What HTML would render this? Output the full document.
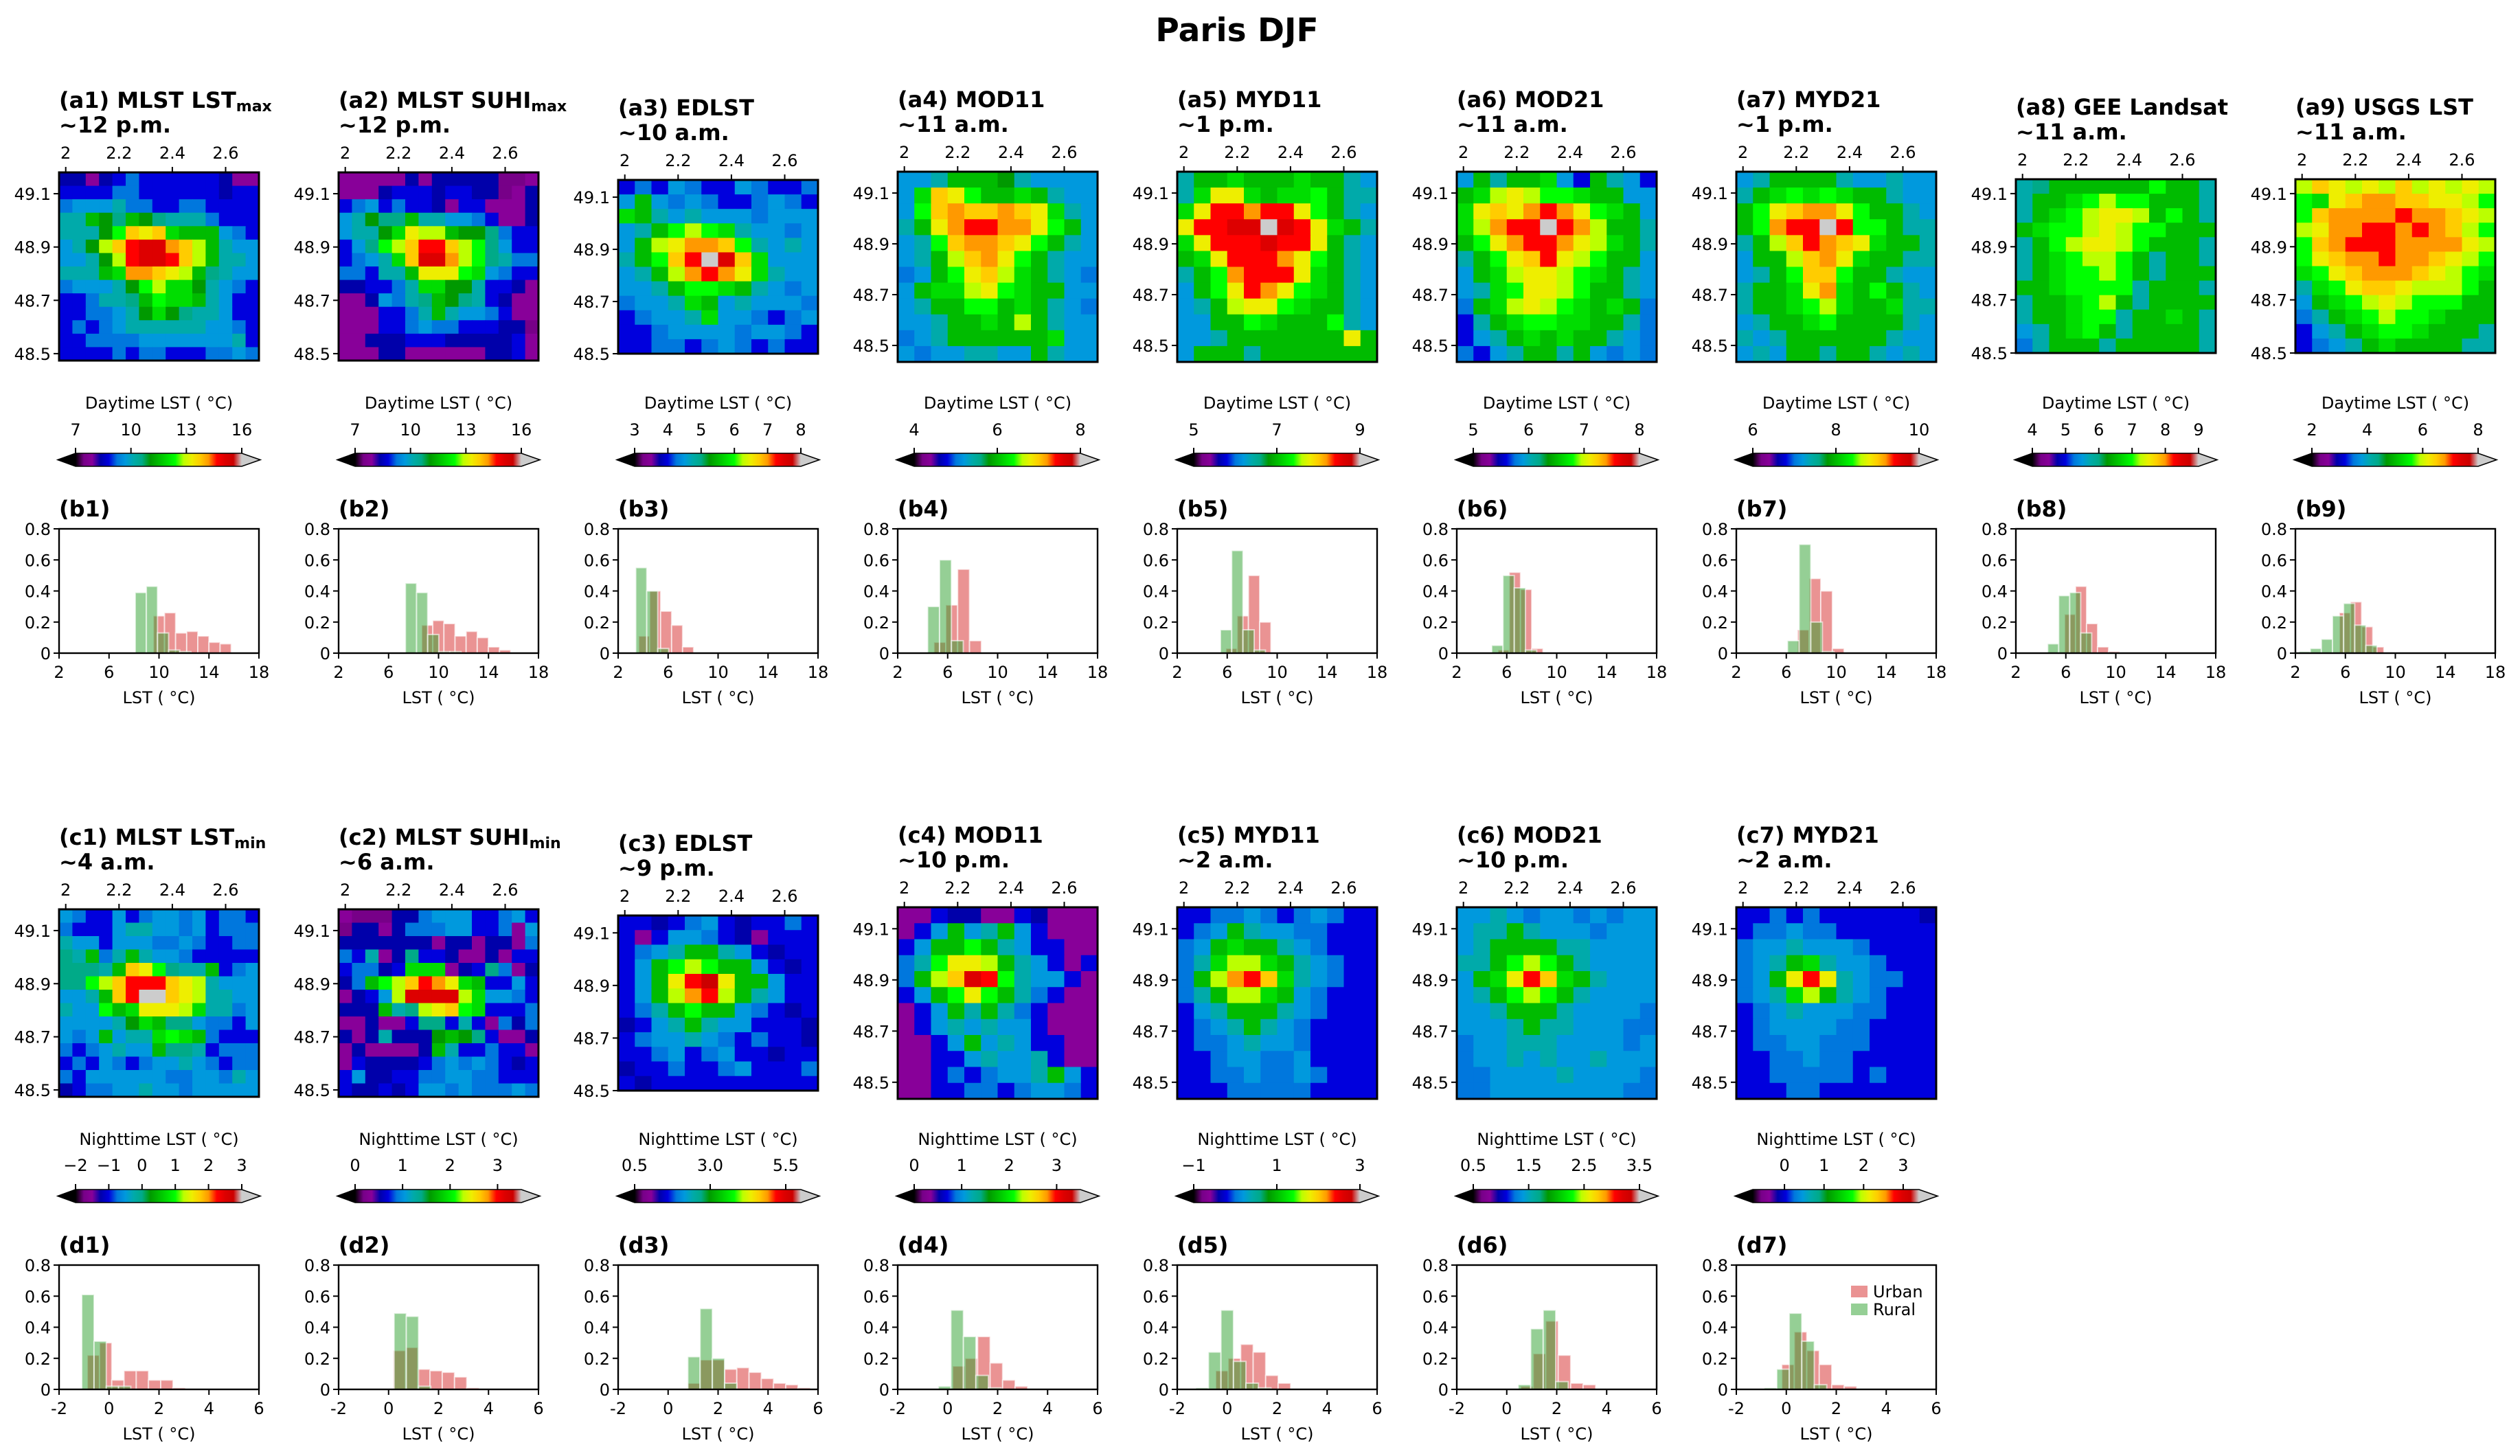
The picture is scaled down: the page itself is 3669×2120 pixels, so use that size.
<!DOCTYPE html>
<html><head><meta charset="utf-8">
<style>
html,body{margin:0;padding:0;background:#fff;}
svg{display:block;font-family:"DejaVu Sans","Liberation Sans",sans-serif;}
</style></head>
<body>
<svg id="fig" xmlns="http://www.w3.org/2000/svg" width="3669" height="2120" viewBox="0 0 3669 2120">
<rect x="0" y="0" width="3669" height="2120" fill="#fff"/>
<text x="1801" y="60" font-size="47" font-weight="bold" text-anchor="middle">Paris DJF</text>
</svg>
<script>
// ---------- map data (colour-level letters a..u => 0..20 of colour range) ----------
const gridA1 = ["ddcdefeeeeeedcc","eeeeffeeeeeedee","fggghffeeffeeee","hhkjikjihhhfeee","hhhjmpoplkkkgfe","ghjnprssqpnkhgg","gghjnrssrpnkhhg","hhhklqqponkihgg","fggghjmnlljhgfe","eefhhikmllkhgee","eeffghjljihhgee","efefghhhhhhggfe","eeffffggggggghe","eeeefeffeeeffgf"];
const gridA2 = ["cccccdcdddddbbc","cccdeeedeeddbcd","efgefeedceecccd","ghjiikhhggfeccd","ghhjlonnkjjifee","egimnprrpnmigee","efghlpssqnmihff","ffehhkooomlgfee","ddeefhlljjheedc","ccdgfhikjihedcc","ccceefhkhggfecc","ccceefgffeeeddb","ccdddeeedddddec","cccddccccccddec"];
const gridA3 = ["efegfeegfeef","gkgfgfeefgfe","lkhghgggfggg","ghkmnmlhggfg","gknoqqpmhghg","hkmprusplggg","ghknqrqolhgg","gghkmmlkhgfg","fgghlkghgggf","efgghlggfefg","eefggggfggfe","eeffefgfefee"];
const gridA4 = ["gghkkkjhgggg","glpomkklkhgg","gmpqppqpolhg","hkoqrrqqomkg","ghmpqqpomkhg","ghknpqomkhgg","fgkmopnlkhgf","gkllnomlkkgg","ghkkmmklkhgf","gghkklknkhgg","fghkkkkkklgg","gfgghhggkhgg"];
const gridA5 = ["hkklkkklkkhg","hloolkllmkhh","lorrqrromkhg","orrssusrolkh","lorrrsrrokhg","klorrrqomkhg","hkmqrrrolkhg","gkmorqomlkhg","ghknoomlkkhg","ggkkmlkkkmhg","gghkkkkkkkok","gkkkhkkkkkkk"];
const gridA6 = ["gkhkklgekhge","klnonmmlkkgg","lopoqrqomlkg","lnqrrurqnkkh","kmoqrrqonlkh","hkmopronmkkg","gklnoonmlkhg","ghlmoonmkkhg","fklnonmlklkf","ehklmmllkkhf","eghklklkkhgf","feghkkhkgfgf"];
const gridA7 = ["ghkkkkhgghgg","hklmlmlkkhgg","kmopqqomkkhg","kmqrrurmmkhh","hknprqpolkkh","gkknpqolkkhh","ghkmppmkkhgg","hkkloqlkmkhg","hkklmnlkklhh","ghkklmkkkkhg","hghkkkkkkhgg","ghgkkhkkhghg"];
const gridA8 = ["hikkkkkkmkkh","hkklmnmmkkkh","hklmnoonkmkh","klmmnonmmkkk","hkmnoonmkkkh","hklmnnmkhkkh","hklmmnmkhkkk","kklmmmmhkkkh","hkklmnkhkkkk","hkklmmhkklkh","ghklmkhkkkkh","fhkkkhkkkkkh"];
const gridA9 = ["npononpnonon","mlopqqppoonm","mpqqqqrqqpon","noqqrrqrqpnm","mpqrrrqqqqon","mopqqrqqponm","lmopqqqponml","hlmopponnnmk","gklmnonmmmkk","fhklmnmmlkkk","eghklmmlkkkh","efghklkkkkhh"];
const gridC1 = ["gfeegefggfgeffe","feeeghhggfgefff","hggegggffgfeeff","ihkfhkhggfeeeee","iiihkpomihhkefg","iimnprrrponhggg","gghkpruuponhhgg","hggmklooonlhhfg","gggghjlkiigffeg","gfgkghhlmlkfeee","fefghggkiihefff","efegfefgghgfeff","feggggggffggfhg","deffgghggfggggg"];
const gridC2 = ["cbbbddfgggeefge","bddcdfffggeefcg","dddddddcddcddcf","fehcdieedccdcee","effdelllcdeifcd","dfkmnprqolkeege","cdegnssssnlggfe","dddkhinopmleeef","ccdcceiiehecfdf","dcdhdddjkjieccd","cdccccdkheefeec","ceddddefgfgfede","egddeeffggffeee","eddedeggfgfffgf"];
const gridC3 = ["eedefgedeefe","eceggfedceee","efghkkhgedee","egkmnmkkgede","egkortokkgee","egknqrnkhgee","efhkmkkgfede","deghkhggeeed","efgghgfefeed","eefgefgeedee","deefeefgeeef","edeeeeeeeeee"];
const gridC4 = ["cceddccedccc","cegkghkgeccc","egkkmkhgeecc","fhmoonkhgece","fknpsrmhggec","egkmomkhfecc","cegkhkhfeccc","ceghghggeccc","ccegkghgeecc","cceeghgghecc","ccefefgghkge","cceeffefggfe"];
const gridC5 = ["eeffgfefgfee","efgkhggffeee","fgklkkhgfeee","fhlnnlkhgfee","fknqrplhgfee","fhknnlkgfeee","eghkkkhgfeee","efghkhgfeeee","effghggfeeee","eefggffgeeee","eeffgffgfeee","eeefffffeeee"];
const gridC6 = ["gghgfggfgfgg","ghhkhgggfggg","ghkkkkhhgggg","hhkmnmkhgggg","gklorplkhggg","ghkmnmkhgggg","gghkkkhggggf","ggghkhhgggff","fgghhhggggfg","fgghghgghggg","ffgggghggggf","ffggggggggff"];
const gridC7 = ["eefefeeeeeed","effgffeeeeee","fgghgggfeeee","fghklhggfeee","fgkorohgffee","fghlnkhgfeee","efghgggffeee","efggggffeeee","effggfffeeee","eeffgffeeeee","eefffffefeee","eeeffeeeeeee"];

// colour-bar ranges and tick labels
const cbRangeA = [[7,16],[7,16],[3,8],[4,8],[5,9],[5,8],[6,10],[4,9],[2,8]];
const cbTicksA = [[7,10,13,16],[7,10,13,16],[3,4,5,6,7,8],[4,6,8],[5,7,9],[5,6,7,8],[6,8,10],[4,5,6,7,8,9],[2,4,6,8]];
const cbRangeC = [[-2,3],[0,3.5],[0.5,6.0],[0,3.5],[-1,3],[0.5,3.5],[-0.8,3.4]];
const cbTicksC = [[-2,-1,0,1,2,3],[0,1,2,3],[0.5,3.0,5.5],[0,1,2,3],[-1,1,3],[0.5,1.5,2.5,3.5],[0,1,2,3]];
const cbTickLabelsC = [["−2","−1","0","1","2","3"],["0","1","2","3"],["0.5","3.0","5.5"],["0","1","2","3"],["−1","1","3"],["0.5","1.5","2.5","3.5"],["0","1","2","3"]];

// ---------- histogram data (fraction per bin) ----------
const urbanStartB = [9.55,8.65,3.64,4.9,5.9,5.3,6.9,5.9,5.52];
const urbanB = [[0.24,0.26,0.13,0.14,0.11,0.07,0.06],[0.18,0.21,0.19,0.11,0.14,0.10,0.04,0.02],[0.11,0.40,0.27,0.18,0.04],[0.07,0.31,0.54,0.08],[0.03,0.24,0.50,0.20],[0.02,0.52,0.41,0.03],[0.15,0.48,0.40,0.03],[0.25,0.43,0.19,0.04,0.01],[0.26,0.33,0.17,0.04]];
const ruralStartB = [8.1,7.35,3.41,4.4,5.46,4.8,6.1,4.55,2.3];
const ruralB = [[0.39,0.43,0.13,0.02,0.01],[0.45,0.39,0.12,0.01,0.01],[0.55,0.40,0.03],[0.30,0.60,0.08],[0.15,0.66,0.15,0.02],[0.05,0.50,0.42,0.02],[0.08,0.70,0.20,0.01],[0.06,0.37,0.39,0.13],[0.01,0.03,0.09,0.24,0.32,0.18,0.05]];
const binWidthB = [0.89,0.89,0.88,0.95,0.9,0.9,0.93,0.88,0.89];
const urbanStartD = [-0.87,0.19,0.79,0.2,-0.46,0.56,-0.18];
const urbanD = [[0.22,0.30,0.06,0.12,0.12,0.06,0.06,0.01],[0.25,0.27,0.13,0.12,0.11,0.08,0.01],[0.04,0.19,0.19,0.13,0.14,0.11,0.07,0.04,0.03,0.01],[0.15,0.20,0.34,0.17,0.06,0.02],[0.12,0.20,0.29,0.24,0.09,0.04],[0.02,0.23,0.44,0.22,0.04,0.03],[0.16,0.37,0.25,0.16,0.03,0.02]];
const ruralStartD = [-1.09,0.22,0.79,-0.37,-1.25,0.46,-0.88];
const ruralD = [[0.61,0.31,0.02,0.02],[0.49,0.47,0.02],[0.21,0.52,0.20,0.04],[0.02,0.51,0.34,0.09,0.01],[0.01,0.24,0.51,0.18,0.04,0.01],[0.03,0.39,0.51,0.05],[0.01,0.13,0.49,0.31,0.03]];
const binWidthD = [0.49,0.49,0.49,0.5,0.5,0.5,0.5];
const histTicksB = [2,6,10,14,18];
const histTicksD = [-2,0,2,4,6];
const histYTicks = [0,0.2,0.4,0.6,0.8];
const histYTickLabels = ["0","0.2","0.4","0.6","0.8"];
const lonTicks = [2,2.2,2.4,2.6];
const lonTickLabels = ["2","2.2","2.4","2.6"];
const latTicks = [48.5,48.7,48.9,49.1];

// ---------- panel text ----------
const titlesA = [["(a1) MLST LST","max","~12 p.m."],["(a2) MLST SUHI","max","~12 p.m."],["(a3) EDLST","","~10 a.m."],["(a4) MOD11","","~11 a.m."],["(a5) MYD11","","~1 p.m."],["(a6) MOD21","","~11 a.m."],["(a7) MYD21","","~1 p.m."],["(a8) GEE Landsat","","~11 a.m."],["(a9) USGS LST","","~11 a.m."]];
const titlesC = [["(c1) MLST LST","min","~4 a.m."],["(c2) MLST SUHI","min","~6 a.m."],["(c3) EDLST","","~9 p.m."],["(c4) MOD11","","~10 p.m."],["(c5) MYD11","","~2 a.m."],["(c6) MOD21","","~10 p.m."],["(c7) MYD21","","~2 a.m."]];

// ---------- layout (not data) ----------
const W = 291;
const colX = i => 86 + i*407;
const mapBoxA = [[251,525,49.18,48.474],[251,525,49.18,48.474],[262,515,49.166,48.5],[250,527,49.184,48.435],[250,527,49.184,48.435],[250,527,49.184,48.435],[250,527,49.184,48.435],[261,514,49.154,48.5],[261,514,49.154,48.5]];
const mapBoxC = [[1324,1597,49.18,48.474],[1324,1597,49.18,48.474],[1333,1588,49.166,48.5],[1321,1600,49.184,48.435],[1321,1600,49.184,48.435],[1321,1600,49.184,48.435],[1321,1600,49.184,48.435]];
const LON0 = 1.975, LON1 = 2.725;

const CM = [[0,0,0],[0.4667,0,0.5333],[0.5333,0,0.6],[0,0,0.6667],[0,0,0.8667],[0,0.4667,0.8667],[0,0.6,0.8667],[0,0.6667,0.6667],[0,0.6667,0.5333],[0,0.6,0],[0,0.7333,0],[0,0.8667,0],[0,1,0],[0.7333,1,0],[0.9333,0.9333,0],[1,0.8,0],[1,0.6,0],[1,0,0],[0.8667,0,0],[0.8,0,0],[0.8,0.8,0.8]];
function cmap(t){t=Math.max(0,Math.min(1,t));const f=t*20;const i=Math.min(19,Math.floor(f));const u=f-i;const a=CM[i],b=CM[i+1];
 return 'rgb('+[0,1,2].map(k=>Math.round(255*(a[k]+(b[k]-a[k])*u))).join(',')+')';}

const NS="http://www.w3.org/2000/svg";
const svg=document.getElementById('fig');
function el(tag,parent){const e=document.createElementNS(NS,tag);(parent||svg).appendChild(e);return e;}
function setA(e,o){for(const k in o)e.setAttribute(k,o[k]);return e;}

const defs=el('defs');
const grad=el('linearGradient',defs);
setA(grad,{id:'nipy',x1:'0',x2:'1',y1:'0',y2:'0'});
CM.forEach((c,i)=>{const s=el('stop',grad);setA(s,{offset:(i/20),'stop-color':'rgb('+c.map(v=>Math.round(v*255)).join(',')+')'});});

function txt(parent,x,y,s,size,anchor,bold){const t=el('text',parent);setA(t,{x:x,y:y,'font-size':size,'text-anchor':anchor||'start'});if(bold)t.setAttribute('font-weight','bold');t.textContent=s;return t;}

function drawMap(grid,range,box,i,title,rowName){
 const x0=colX(i),yT=box[0],yB=box[1],latT=box[2],latB=box[3],h=yB-yT;
 const g=el('g');
 
 
 const rows=grid.length;
 const cols=grid[0].replace(/ /g,'').length;
 grid.forEach((row,r)=>{
  let cells=row.replace(/ /g,'');
  while(cells.length<cols)cells+=cells[cells.length-1];
  for(let c=0;c<cols;c++){
   const lvl=cells.charCodeAt(c)-97;
   const value=range[0]+lvl/20*(range[1]-range[0]);
   const rc=el('rect',g);
   
   
   const cx0=x0+c*W/cols, cy0=yT+r*h/rows;
   setA(rc,{x:cx0.toFixed(2),y:cy0.toFixed(2),width:(W/cols+0.6).toFixed(2),height:(h/rows+0.6).toFixed(2),fill:cmap((value-range[0])/(range[1]-range[0]))});
  }
 });
 const fr=el('rect',g);setA(fr,{x:x0,y:yT,width:W,height:h,fill:'none',stroke:'#000','stroke-width':3});
 const lonX=lon=>x0+(lon-LON0)/(LON1-LON0)*W;
 const latY=lat=>yT+(latT-lat)/(latT-latB)*h;
 lonTicks.forEach((lon,k)=>{const x=lonX(lon);const l=el('line',g);setA(l,{x1:x,x2:x,y1:yT,y2:yT-8,stroke:'#000','stroke-width':2});
  txt(g,x,yT-20,lonTickLabels[k],24,'middle');});
 latTicks.forEach(lat=>{const y=latY(lat);const l=el('line',g);setA(l,{x1:x0,x2:x0-8,y1:y,y2:y,stroke:'#000','stroke-width':2});
  txt(g,x0-12,y+9,lat.toFixed(1),24,'end');});
 const t1=el('text');
 
 
 setA(t1,{x:x0,y:yT-94,'font-size':32,'font-weight':'bold'});
 const s1=el('tspan',t1);s1.textContent=title[0];
 if(title[1]){const s2=el('tspan',t1);setA(s2,{'font-size':22,dy:5});s2.textContent=title[1];}
 const t2=txt(svg,x0,yT-58,title[2],32,'start',true);
 
 
}

function drawColorbar(range,ticks,labels,i,yTop,labelY,tickY,labelText,rowName){
 const x0=colX(i),x1=x0+24,x2=x0+W-25,yb=yTop+19,ym=(yTop+yb)/2;
 const g=el('g');
 
 
 const lt=el('polygon',g);setA(lt,{points:`${x0-2},${ym} ${x1},${yTop} ${x1},${yb}`,fill:'#000'});
 const rt=el('polygon',g);setA(rt,{points:`${x2},${yTop} ${x0+W+2},${ym} ${x2},${yb}`,fill:'#ccc'});
 const bar=el('rect',g);setA(bar,{x:x1,y:yTop,width:x2-x1,height:19,fill:'url(#nipy)'});
 const ol=el('polygon',g);setA(ol,{points:`${x0-2},${ym} ${x1},${yTop} ${x2},${yTop} ${x0+W+2},${ym} ${x2},${yb} ${x1},${yb}`,fill:'none',stroke:'#000','stroke-width':1.6});
 ticks.forEach((v,k)=>{const x=x1+(v-range[0])/(range[1]-range[0])*(x2-x1);
  const l=el('line',g);setA(l,{x1:x,x2:x,y1:yTop,y2:yTop-8,stroke:'#000','stroke-width':2});
  txt(g,x,tickY+9,labels[k],24,'middle');});
 txt(g,x0+W/2,labelY+9,labelText,24,'middle');
}

function drawHist(urbStart,urb,rurStart,rur,bw,ticks,xr,i,yTop,label,rowName,legend){
 const x0=colX(i),yB=yTop+181,h=181;
 const g=el('g');
 
 
 const sx=v=>x0+(v-xr[0])/(xr[1]-xr[0])*W;
 const sy=v=>yB-v/0.8*h;
 const draw=(start,vals,col,nm)=>vals.forEach((v,k)=>{const b=el('rect',g);
  
  
  const xa=sx(start+k*bw),xb=sx(start+(k+1)*bw);
  setA(b,{x:xa,y:sy(v),width:xb-xa,height:yB-sy(v),fill:col,'fill-opacity':0.5,stroke:'#fff','stroke-opacity':0.6,'stroke-width':2});});
 draw(urbStart,urb,'#d62728','urban-bar');
 draw(rurStart,rur,'#2ca02c','rural-bar');
 const fr=el('rect',g);setA(fr,{x:x0,y:yTop,width:W,height:h,fill:'none',stroke:'#000','stroke-width':2.4});
 ticks.forEach(v=>{const x=sx(v);const l=el('line',g);setA(l,{x1:x,x2:x,y1:yB,y2:yB+8,stroke:'#000','stroke-width':2});
  txt(g,x,yB+36,String(v),24,'middle');});
 histYTicks.forEach((v,k)=>{const y=sy(v);const l=el('line',g);setA(l,{x1:x0,x2:x0-8,y1:y,y2:y,stroke:'#000','stroke-width':2});
  txt(g,x0-12,y+9,histYTickLabels[k],24,'end');});
 txt(g,x0+W/2,yB+73,'LST ( °C)',24,'middle');
 const t=txt(svg,x0,yTop-18,label,32,'start',true);
 
 
 if(legend){
  const lg=el('g');
  
  
  const r1=el('rect',lg);setA(r1,{x:x0+W-124,y:yTop+30,width:24,height:17,fill:'#d62728','fill-opacity':0.5});
  const r2=el('rect',lg);setA(r2,{x:x0+W-124,y:yTop+56,width:24,height:17,fill:'#2ca02c','fill-opacity':0.5});
  const e1=txt(lg,x0+W-92,yTop+47,'Urban',24,'start');
  
  
  const e2=txt(lg,x0+W-92,yTop+73,'Rural',24,'start');
  
  
 }
}

const gridsA=[gridA1,gridA2,gridA3,gridA4,gridA5,gridA6,gridA7,gridA8,gridA9];
const gridsC=[gridC1,gridC2,gridC3,gridC4,gridC5,gridC6,gridC7];
for(let i=0;i<9;i++){
 drawMap(gridsA[i],cbRangeA[i],mapBoxA[i],i,titlesA[i],'a'+(i+1));
 drawColorbar(cbRangeA[i],cbTicksA[i],cbTicksA[i].map(String),i,660,586,625,'Daytime LST ( °C)','a'+(i+1));
 drawHist(urbanStartB[i],urbanB[i],ruralStartB[i],ruralB[i],binWidthB[i],histTicksB,[2,18],i,770,'(b'+(i+1)+')','b'+(i+1),false);
}
for(let i=0;i<7;i++){
 drawMap(gridsC[i],cbRangeC[i],mapBoxC[i],i,titlesC[i],'c'+(i+1));
 drawColorbar(cbRangeC[i],cbTicksC[i],cbTickLabelsC[i],i,1732,1658,1696,'Nighttime LST ( °C)','c'+(i+1));
 drawHist(urbanStartD[i],urbanD[i],ruralStartD[i],ruralD[i],binWidthD[i],histTicksD,[-2,6],i,1842,'(d'+(i+1)+')','d'+(i+1),i===6);
}
</script>
</body></html>
